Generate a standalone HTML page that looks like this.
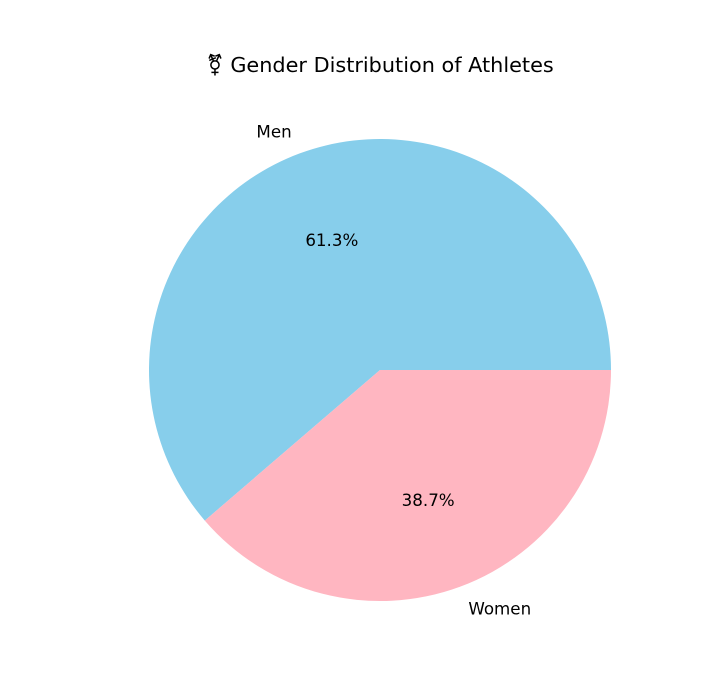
<!DOCTYPE html>
<html><head><meta charset="utf-8"><style>
html,body{margin:0;padding:0;background:#fff;}
svg{display:block;font-family:"DejaVu Sans","Liberation Sans",sans-serif;}
</style></head><body>
<svg id="chart" width="724" height="692" viewBox="0 0 724 692">
<rect width="724" height="692" fill="#fff"/>
<text x="380" y="72" text-anchor="middle" font-size="20.8" fill="#000">⚧ Gender Distribution of Athletes</text>
<g id="slices"></g>
</svg>
<script>
const categories = ["Men", "Women"];
const values = [61.3, 38.7];
const colors = ["#87CEEB", "#FFB6C1"];

const cx = 380, cy = 370, r = 231;
const ns = "http://www.w3.org/2000/svg";
const g = document.getElementById('slices');
const total = values.reduce((a, b) => a + b, 0);
let start = 0;
function pt(deg, rr) {
  const a = deg * Math.PI / 180;
  return [cx + rr * Math.cos(a), cy - rr * Math.sin(a)];
}
values.forEach((v, i) => {
  const sweep = v / total * 360;
  const end = start + sweep;
  const [x1, y1] = pt(start, r);
  const [x2, y2] = pt(end, r);
  const large = sweep > 180 ? 1 : 0;
  const p = document.createElementNS(ns, 'path');
  p.setAttribute('d', `M${cx},${cy} L${x1},${y1} A${r},${r} 0 ${large} 0 ${x2},${y2} Z`);
  p.setAttribute('fill', colors[i]);
  
  
  g.appendChild(p);
  const mid = start + sweep / 2;
  const [lx, ly] = pt(mid, r * 1.1);
  const t = document.createElementNS(ns, 'text');
  t.setAttribute('x', lx);
  t.setAttribute('y', ly + 6);
  t.setAttribute('font-size', '16.7');
  t.setAttribute('text-anchor', lx < cx ? 'end' : 'start');
  t.textContent = categories[i];
  
  
  g.appendChild(t);
  const [px, py] = pt(mid, r * 0.6);
  const pc = document.createElementNS(ns, 'text');
  pc.setAttribute('x', px);
  pc.setAttribute('y', py + 6);
  pc.setAttribute('font-size', '16.7');
  pc.setAttribute('text-anchor', 'middle');
  pc.textContent = (v / total * 100).toFixed(1) + '%';
  
  
  g.appendChild(pc);
  start = end;
});
</script>
</body></html>
